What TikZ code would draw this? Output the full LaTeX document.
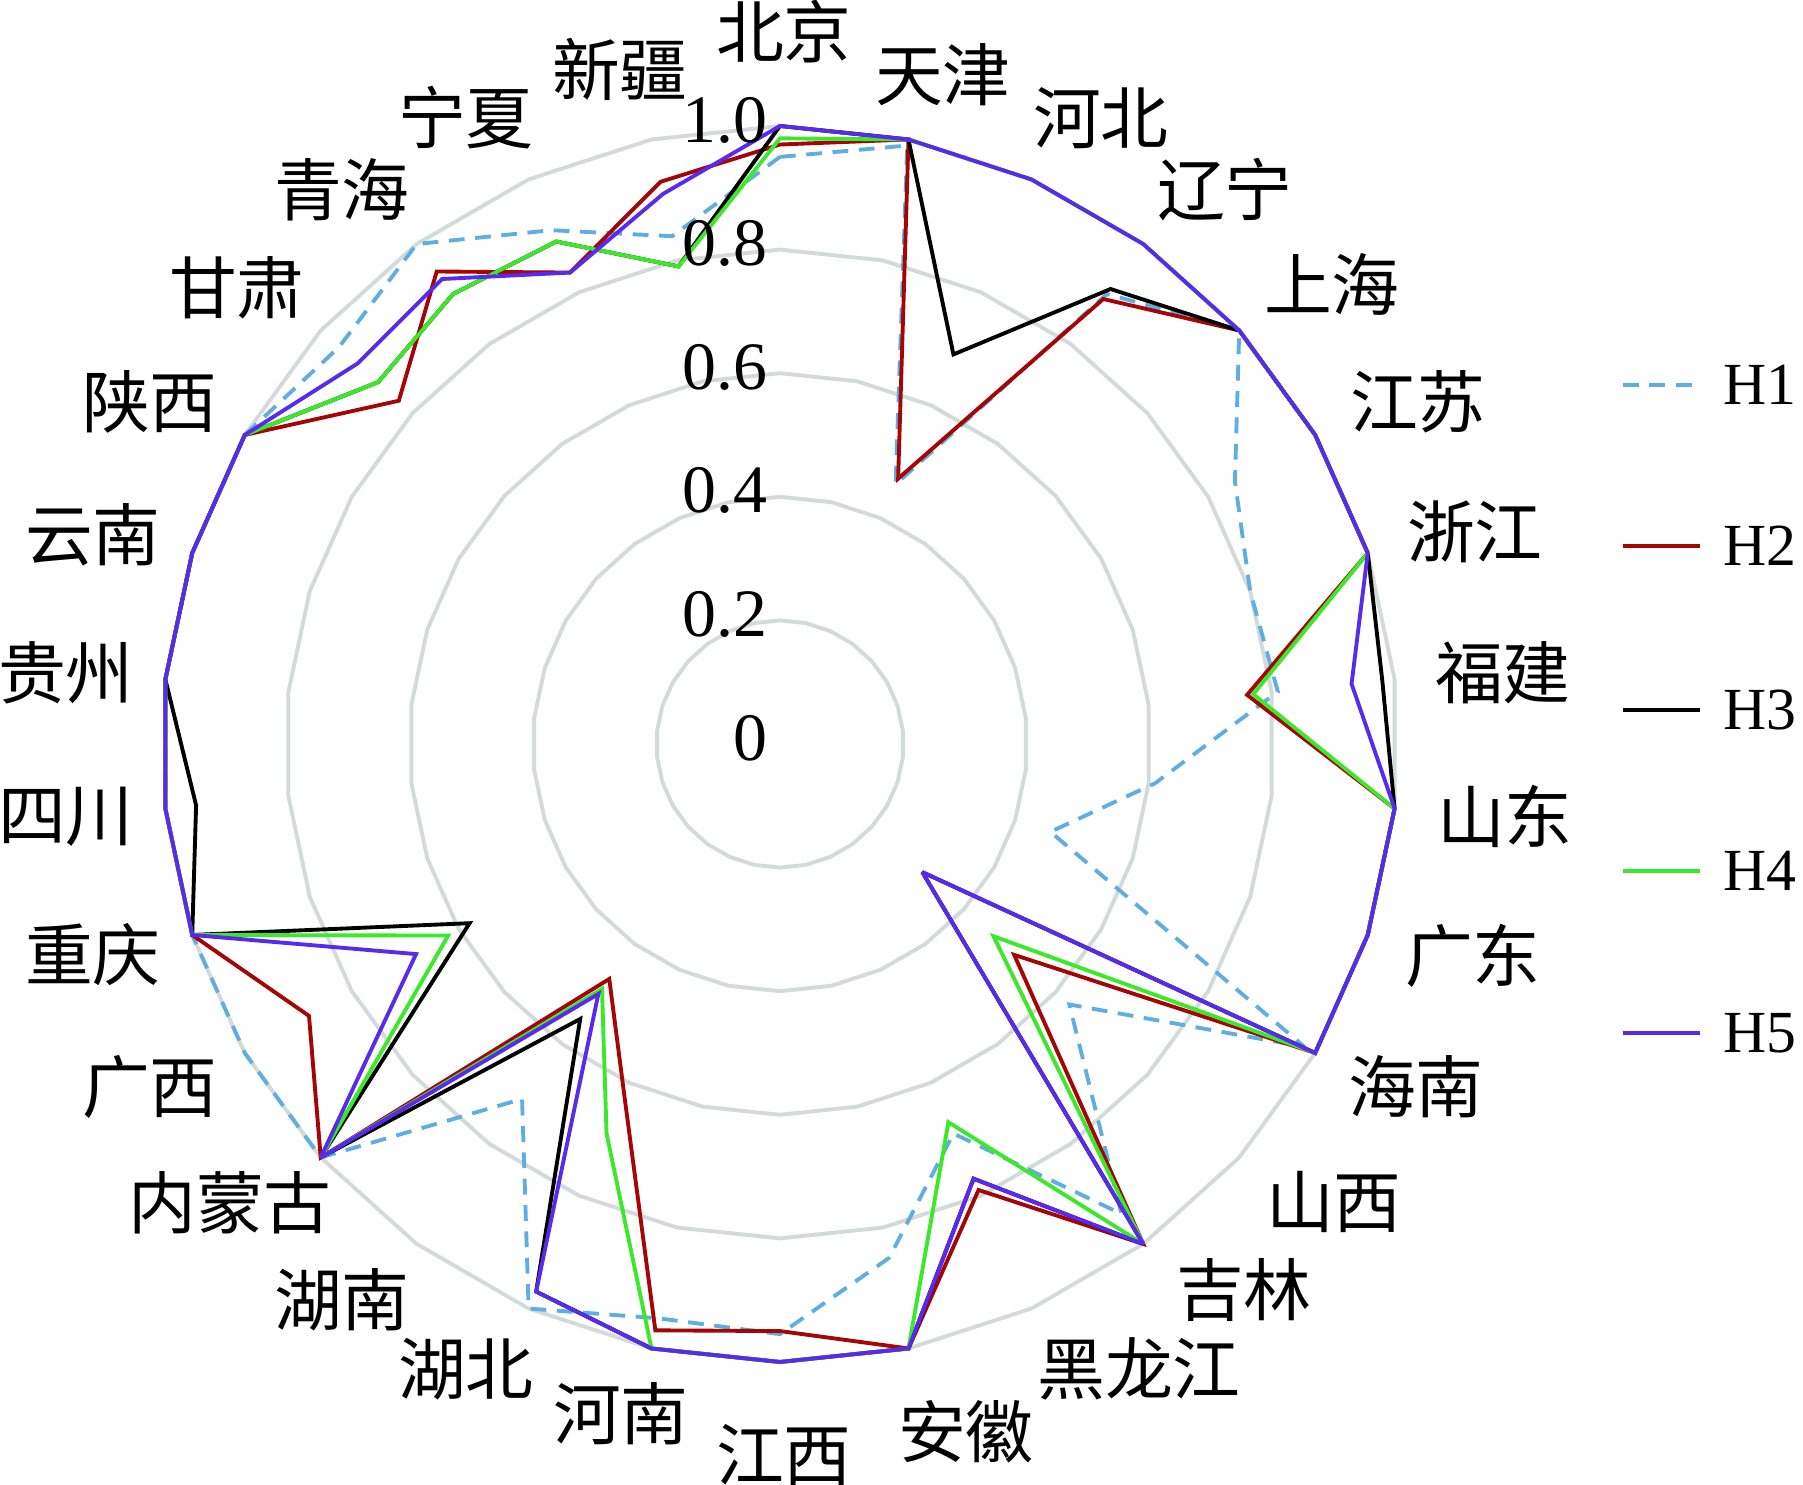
\documentclass[tikz,border=0pt]{standalone}
\usepackage{fontspec}
\setmainfont{Liberation Serif}
\newfontfamily\cjk{Noto Sans CJK SC}

\definecolor{ringgray}{RGB}{210,218,218}
\definecolor{hblue}{RGB}{95,174,227}
\definecolor{hred}{RGB}{165,5,5}
\definecolor{hgreen}{RGB}{60,232,42}
\definecolor{hpurple}{RGB}{88,42,238}
\def\rmax{6.18}

\tikzset{
  ring/.style={ringgray, line width=1.1pt},
  series/.style={line width=1.1pt, miter limit=3},
  H1/.style={series, hblue, dash pattern=on 4.5pt off 3pt},
  H2/.style={series, hred},
  H3/.style={series, black},
  H4/.style={series, hgreen},
  H5/.style={series, hpurple},
  prov/.style={font=\cjk\fontsize{19.3}{23}\selectfont, inner sep=0pt},
  ticklabel/.style={font=\fontsize{19.3}{23}\selectfont, inner sep=0pt, anchor=east},
  legtext/.style={font=\fontsize{17}{20}\selectfont, inner sep=0pt, anchor=west}
}

% one closed series, 30 values clockwise from the top
\newcommand\drawseries[2]{%
  \foreach \v [count=\i from 0] in {#2}
    \coordinate (#1-\i) at ({90-12*\i}:{\v*\rmax});
  \draw[#1] (#1-0) \foreach \i in {1,...,29} {-- (#1-\i)} -- cycle;
}

\begin{document}
\begin{tikzpicture}
\useasboundingbox (-7.80,-7.41) rectangle (10.23,7.44);
% grid
\foreach \k in {1,...,5}
  \draw[ring] (90:{\k*0.2*\rmax}) \foreach \i in {1,...,29} {-- ({90-12*\i}:{\k*0.2*\rmax})} -- cycle;
% data
\drawseries{H1}{0.95,0.99,0.46,0.90,1,0.85,0.80,0.81,0.61,0.46,0.98,0.63,0.94,0.69,0.85,0.955,0.95,1,0.71,1,1,1,1,1,1,1,0.96,1,0.91,0.84}
\drawseries{H2}{0.97,1,0.47,0.89,1,1,1,0.76,1,1,1,0.51,1,0.79,1,0.95,0.97,0.62,0.47,1,0.88,1,1,1,1,1,0.83,0.945,0.835,0.93}
\drawseries{H3}{1,1,0.69,0.91,1,1,1,0.98,1,1,1,0.31,1,0.77,1,1,1,0.97,0.55,1,0.58,1,0.95,1,1,1,0.875,0.90,0.89,0.79}
\drawseries{H4}{0.98,1,1,1,1,1,1,0.77,1,1,1,0.465,1,0.67,1,1,1,0.69,0.49,1,0.62,1,1,1,1,1,0.875,0.90,0.89,0.79}
\drawseries{H5}{1,1,1,1,1,1,1,0.93,1,1,1,0.31,1,0.77,1,1,1,0.97,0.50,1,0.68,1,1,1,1,1,0.92,0.93,0.835,0.91}
% scale
\foreach \t [count=\k from 0] in {0,0.2,0.4,0.6,0.8,1.0}
  \node[ticklabel] (tk\k) at (-0.12,{\k*0.2*\rmax+0.06}) {\t};
% provinces
\foreach \name/\x/\y [count=\k] in {北京/0.04/7.12, 天津/1.63/6.69, 河北/3.21/6.26, 辽宁/4.45/5.54,
  上海/5.52/4.60, 江苏/6.38/3.42, 浙江/6.95/2.12, 福建/7.23/0.71, 山东/7.25/-0.72,
  广东/6.93/-2.12, 海南/6.36/-3.43, 山西/5.54/-4.58, 吉林/4.64/-5.46, 黑龙江/3.59/-6.25,
  安徽/1.86/-6.88, 江西/0.04/-7.11, 河南/-1.59/-6.70, 湖北/-3.14/-6.25, 湖南/-4.38/-5.56,
  内蒙古/-5.50/-4.59, 广西/-6.30/-3.43, 重庆/-6.87/-2.11, 四川/-7.14/-0.73, 贵州/-7.14/0.71,
  云南/-6.87/2.09, 陕西/-6.30/3.42, 甘肃/-5.43/4.56, 青海/-4.38/5.54, 宁夏/-3.14/6.26,
  新疆/-1.60/6.75}
  \node[prov] (prov\k) at (\x,\y) {\name};
% legend
\foreach \s/\y in {H1/3.59, H2/1.98, H3/0.34, H4/-1.27, H5/-2.89}{
  \coordinate (\s-a) at (8.43,\y);
  \coordinate (\s-b) at (9.20,\y);
  \draw[\s] (\s-a) -- (\s-b);
  \node[legtext] (\s-lab) at (9.43,\y) {\s};
}
\end{tikzpicture}
\end{document}
